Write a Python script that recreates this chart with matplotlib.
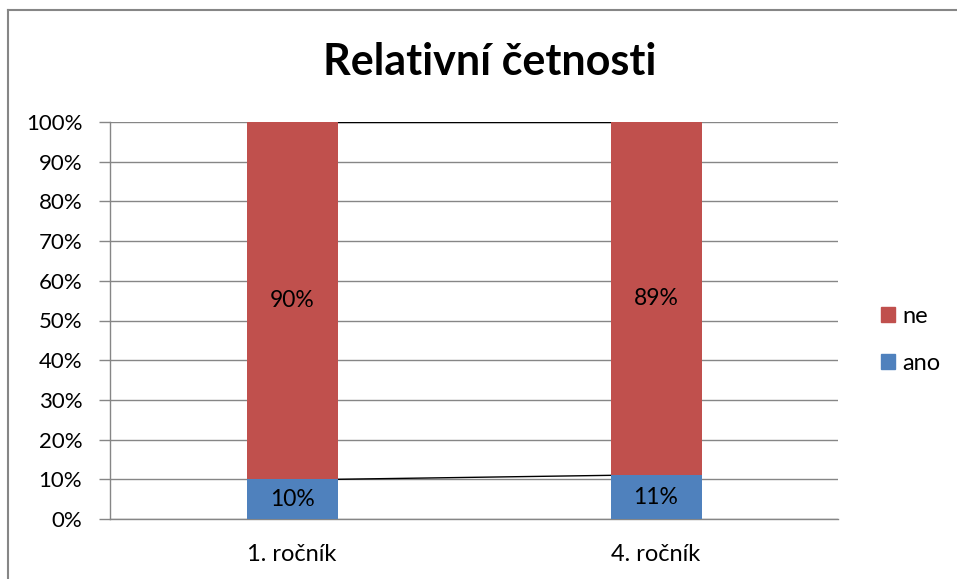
import matplotlib.pyplot as plt
from matplotlib.lines import Line2D
from matplotlib.patches import Patch
import numpy as np

categories = ["1. ročník", "4. ročník"]
ano = [10, 11]
ne = [90, 89]
ano_labels = ["10%", "11%"]
ne_labels = ["90%", "89%"]

blue = "#4F81BD"
red = "#C0504D"
grid_color = "#868686"

plt.rcParams["font.family"] = ["Lato", "DejaVu Sans"]

W, H = 957, 579
fig = plt.figure(figsize=(W / 100, H / 100), dpi=100)
ax = fig.add_axes([110 / W, (H - 519) / H, 728 / W, (519 - 122) / H])

x = np.arange(len(categories))
width = 0.25
ax.bar(x, ano, width, color=blue, zorder=3)
ax.bar(x, ne, width, bottom=ano, color=red, zorder=3)

for i in range(len(categories)):
    ax.text(x[i], ano[i] / 2, ano_labels[i], ha="center", va="center", fontsize=16.5, zorder=4)
    ax.text(x[i], ano[i] + ne[i] / 2, ne_labels[i], ha="center", va="center", fontsize=16.5, zorder=4)

# series lines between the stacked bars
tops_ano = ano
tops_ne = [a + n for a, n in zip(ano, ne)]
for tops in (tops_ano, tops_ne):
    for i in range(len(categories) - 1):
        ax.plot([x[i] + width / 2, x[i + 1] - width / 2], [tops[i], tops[i + 1]],
                color="black", lw=1, zorder=2)

ax.set_xlim(-0.5, len(categories) - 0.5)
ax.set_ylim(0, 100)
ax.set_yticks(range(0, 101, 10))
ax.set_yticklabels([f"{v}%" for v in range(0, 101, 10)])
ax.set_xticks(x)
ax.set_xticklabels(categories)
ax.tick_params(axis="y", labelsize=16, length=8, color=grid_color, width=1, pad=12)
ax.tick_params(axis="x", labelsize=17, length=0, pad=18)
ax.yaxis.grid(True, color=grid_color, lw=1, zorder=0)
ax.set_axisbelow(True)
for s in ("top", "right"):
    ax.spines[s].set_visible(False)
for s in ("left", "bottom"):
    ax.spines[s].set_color(grid_color)
    ax.spines[s].set_linewidth(1)

fig.text(490 / W, 1 - 62 / H, "Relativní četnosti", ha="center", va="center",
         fontsize=31, fontweight="bold")

handles = [Patch(color=red, label="ne"), Patch(color=blue, label="ano")]
fig.legend(handles=handles, loc="center left", bbox_to_anchor=(860 / W, 1 - 340 / H),
           frameon=False, fontsize=17, handlelength=0.6, handleheight=0.6,
           handletextpad=0.3, labelspacing=1.1)

# chart border
fig.add_artist(Line2D([8 / W, 8 / W], [0, 1 - 10 / H], color=grid_color, lw=1.5))
fig.add_artist(Line2D([8 / W, 1], [1 - 10 / H, 1 - 10 / H], color=grid_color, lw=1.5))

fig.savefig("out.png", dpi=100)
